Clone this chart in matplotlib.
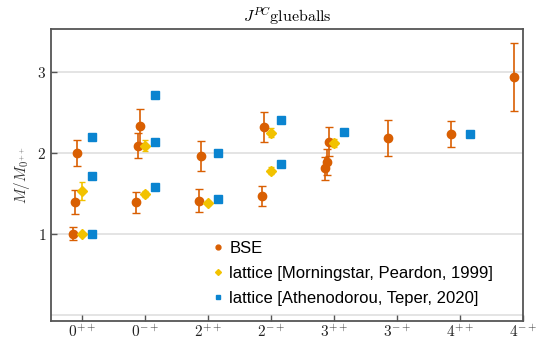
import matplotlib
matplotlib.use("Agg")
import matplotlib.pyplot as plt
import numpy as np

plt.rcParams["mathtext.fontset"] = "cm"

# Quantum numbers J^{PC} along the x axis
states = ["0^{++}", "0^{-+}", "2^{++}", "2^{-+}", "3^{++}", "3^{-+}", "4^{++}", "4^{-+}"]

# Bound-state equation results: channel index, excitation level, mass ratio, uncertainty
bse_state = [0, 0, 0, 1, 1, 1, 2, 2, 3, 3, 4, 4, 4, 5, 6, 7]
bse_level = [0, 1, 2, 0, 1, 2, 0, 1, 0, 1, 0, 1, 2, 0, 0, 0]
bse_mass = [1.00, 1.39, 2.00, 1.39, 2.09, 2.33, 1.41, 1.96, 1.47, 2.32,
            1.81, 1.89, 2.14, 2.18, 2.23, 2.94]
bse_err = [0.08, 0.15, 0.16, 0.13, 0.15, 0.21, 0.14, 0.19, 0.125, 0.19,
           0.14, 0.16, 0.18, 0.22, 0.16, 0.42]

# Lattice: Morningstar, Peardon 1999
mp_state = [0, 0, 1, 1, 2, 3, 3, 4]
mp_mass = [1.00, 1.53, 1.49, 2.09, 1.38, 1.78, 2.25, 2.12]
mp_err = [0.0, 0.11, 0.04, 0.07, 0.03, 0.04, 0.06, 0.05]

# Lattice: Athenodorou, Teper 2020
at_state = [0, 0, 0, 1, 1, 1, 2, 2, 3, 3, 4, 6]
at_mass = [1.00, 1.72, 2.19, 1.58, 2.14, 2.72, 1.43, 2.00, 1.86, 2.41, 2.26, 2.23]

c_bse = "#D95F02"
c_mp = "#F2C200"
c_at = "#0A84D0"

fig = plt.figure(figsize=(5.36, 3.41), dpi=100)
ax = fig.add_axes([0.095, 0.058, 0.881, 0.857])

xpos = np.arange(1, len(states) + 1)

for y in [0, 1, 2, 3]:
    ax.axhline(y, color="#e2e2e2", lw=1.3, zorder=0)

bx = xpos[bse_state] - 0.15 + 0.035 * np.array(bse_level)
ax.errorbar(bx, bse_mass, yerr=bse_err, fmt="o", color=c_bse, ms=6,
            capsize=3, elinewidth=1.2, capthick=1.0, zorder=3)
ax.errorbar(xpos[mp_state], mp_mass, yerr=mp_err, fmt="D", color=c_mp, ms=5,
            capsize=2.5, elinewidth=1.2, capthick=1.0, zorder=3)
ax.plot(xpos[at_state] + 0.16, at_mass, "s", color=c_at, ms=6.3, zorder=3)

# legend handles
h1, = ax.plot([], [], "o", color=c_bse, ms=3.5)
h2, = ax.plot([], [], "D", color=c_mp, ms=3)
h3, = ax.plot([], [], "s", color=c_at, ms=3.5)
ax.legend([h1, h2, h3],
          ["BSE", "lattice [Morningstar, Peardon, 1999]",
           "lattice [Athenodorou, Teper, 2020]"],
          loc="lower left", bbox_to_anchor=(0.318, 0.012), frameon=False,
          handlelength=0.6, handletextpad=0.4, labelspacing=0.6,
          borderaxespad=0.3,
          prop={"family": "Liberation Sans", "size": 12})

ax.set_xlim(0.5, 8.0)
ax.set_ylim(-0.08, 3.53)
ax.set_xticks(xpos)
ax.set_xticklabels([f"${s}$" for s in states], fontsize=11)
ax.set_yticks([1, 2, 3])
ax.set_yticklabels(["$1$", "$2$", "$3$"], fontsize=11)
ax.tick_params(direction="in", length=4, width=1, color="#555555", labelcolor="#222222")
ax.tick_params(axis="x", pad=2)
ax.set_ylabel(r"$M/M_{0^{++}}$", fontsize=11, color="#333333")
ax.set_title(r"$J^{PC}\mathrm{glueballs}$", fontsize=11.5, pad=5)
for sp in ax.spines.values():
    sp.set_color("#555555")
    sp.set_linewidth(1.3)

fig.savefig("out.png", dpi=100)
